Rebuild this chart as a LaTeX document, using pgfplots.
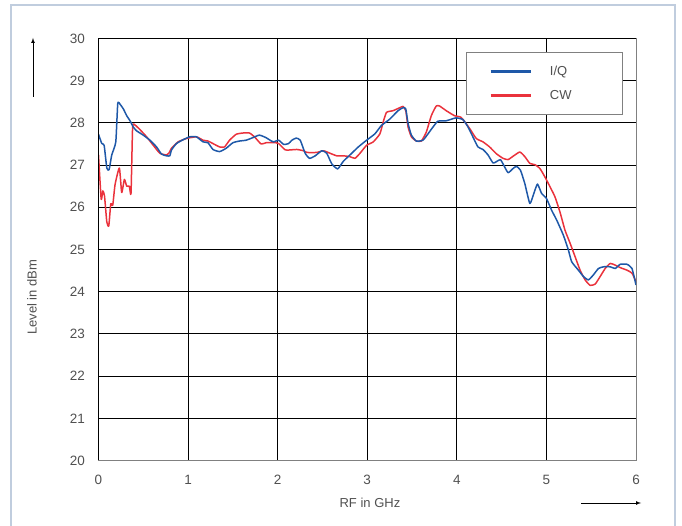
\documentclass[border=0pt]{standalone}
\usepackage{fontspec}
\setmainfont{Liberation Sans}
\usepackage{pgfplots}
\pgfplotsset{compat=1.18}
\definecolor{iqblue}{RGB}{30,88,168}
\definecolor{cwred}{RGB}{234,50,60}
\definecolor{txtgray}{RGB}{80,80,80}
\definecolor{framec}{RGB}{192,205,222}
\begin{document}
\fontsize{13pt}{15pt}\selectfont
\begin{tikzpicture}
\useasboundingbox (-98.5pt,-65.5pt) rectangle (583.5pt,460.5pt);
\draw[framec, line width=1.2pt] (-87.5pt,-70pt) -- (-87.5pt,455.5pt) -- (576.5pt,455.5pt) -- (576.5pt,-70pt);
\begin{axis}[
  at={(0pt,0pt)}, anchor=south west,
  width=537.5pt, height=422pt, scale only axis,
  xmin=0, xmax=6, ymin=20, ymax=30,
  xtick={0,1,2,3,4,5,6}, ytick={20,21,22,23,24,25,26,27,28,29,30},
  grid=major, major grid style={black, line width=0.9pt},
  major tick length=0pt,
  axis line style={draw=gray, line width=1pt},
  /pgf/number format/assume math mode=true,
  tick label style={font=\fontsize{13.5pt}{15pt}\selectfont, text=txtgray},
  xticklabel style={anchor=center, inner sep=0pt, yshift=-19.5pt},
  yticklabel style={anchor=east, inner sep=0pt, xshift=-13.5pt},
  xlabel={RF in GHz}, ylabel={Level in dBm},
  label style={font=\fontsize{13pt}{15pt}\selectfont, text=txtgray},
  xlabel style={at={(axis description cs:0.505,-0.1007)}, anchor=center},
  ylabel style={at={(axis description cs:-0.1237,0.387)}, anchor=center},
  reverse legend,
  legend image code/.code={\draw[#1, line width=3.2pt] (0pt,0pt) -- (40pt,0pt);},
  legend cell align=left,
  legend style={at={(axis description cs:0.683,0.967)}, anchor=north west,
    draw=gray, line width=0.8pt, fill=white, inner xsep=23pt, inner ysep=13pt,
    row sep=11.7pt, column sep=17.7pt, text=txtgray,
    font=\fontsize{13pt}{15pt}\selectfont,
    nodes={inner sep=0pt, minimum height=12pt}},
]
\addplot[cwred, line width=1.5pt, line join=round, smooth, tension=0.3] coordinates {
(0.000,27.24) (0.030,26.19) (0.048,26.39) (0.067,26.27) (0.093,25.65) (0.115,25.56)
(0.137,26.08) (0.159,26.05) (0.185,26.54) (0.233,26.93) (0.259,26.35) (0.289,26.66)
(0.315,26.50) (0.344,26.50) (0.363,26.33) (0.381,27.90) (0.407,27.95) (0.463,27.84)
(0.537,27.67) (0.611,27.47) (0.685,27.28) (0.759,27.24) (0.785,27.28) (0.815,27.40)
(0.889,27.55) (0.981,27.63) (1.093,27.67) (1.167,27.59) (1.222,27.57) (1.278,27.51)
(1.352,27.43) (1.407,27.43) (1.463,27.59) (1.537,27.73) (1.611,27.76) (1.685,27.76)
(1.741,27.67) (1.815,27.50) (1.870,27.53) (1.980,27.53) (2.011,27.51) (2.085,27.36)
(2.141,27.36) (2.215,27.37) (2.289,27.34) (2.326,27.30) (2.437,27.30) (2.511,27.34)
(2.585,27.28) (2.659,27.22) (2.733,27.22) (2.807,27.20) (2.863,27.16) (2.919,27.28)
(2.993,27.47) (3.067,27.55) (3.141,27.74) (3.178,28.02) (3.215,28.25) (3.289,28.29)
(3.363,28.36) (3.400,28.39) (3.430,28.29) (3.456,27.90) (3.493,27.67) (3.548,27.57)
(3.604,27.57) (3.659,27.78) (3.715,28.17) (3.770,28.40) (3.807,28.40) (3.881,28.29)
(3.974,28.17) (4.048,28.13) (4.142,27.87) (4.217,27.63) (4.292,27.55) (4.366,27.43)
(4.441,27.27) (4.516,27.16) (4.572,27.13) (4.628,27.21) (4.703,27.31) (4.759,27.20)
(4.815,27.04) (4.871,27.01) (4.927,26.92) (4.983,26.72) (5.039,26.49) (5.095,26.25)
(5.151,25.89) (5.207,25.46) (5.264,25.15) (5.320,24.83) (5.376,24.51) (5.432,24.28)
(5.488,24.15) (5.544,24.18) (5.600,24.36) (5.656,24.55) (5.712,24.67) (5.768,24.63)
(5.824,24.57) (5.899,24.51) (5.955,24.44) (6.000,24.24)
};
\addlegendentry{\makebox[49pt][l]{CW}}
\addplot[iqblue, line width=1.5pt, line join=round, smooth, tension=0.3] coordinates {
(0.000,27.73) (0.037,27.51) (0.063,27.47) (0.093,26.93) (0.118,26.89) (0.148,27.24)
(0.193,27.55) (0.215,28.46) (0.241,28.44) (0.278,28.33) (0.315,28.17) (0.352,28.05)
(0.389,27.90) (0.426,27.81) (0.500,27.71) (0.574,27.59) (0.648,27.43) (0.704,27.26)
(0.759,27.22) (0.796,27.22) (0.815,27.36) (0.870,27.51) (0.944,27.60) (1.019,27.67)
(1.093,27.67) (1.167,27.55) (1.222,27.53) (1.278,27.37) (1.352,27.32) (1.426,27.40)
(1.500,27.53) (1.574,27.57) (1.648,27.59) (1.722,27.65) (1.796,27.71) (1.870,27.65)
(1.930,27.57) (1.956,27.55) (2.011,27.59) (2.067,27.49) (2.122,27.51) (2.159,27.59)
(2.207,27.64) (2.252,27.59) (2.307,27.28) (2.356,27.16) (2.419,27.22) (2.493,27.34)
(2.548,27.28) (2.604,27.03) (2.670,26.91) (2.733,27.09) (2.807,27.24) (2.900,27.43)
(2.993,27.59) (3.085,27.74) (3.159,27.94) (3.252,28.09) (3.344,28.29) (3.400,28.36)
(3.430,28.33) (3.456,27.98) (3.493,27.71) (3.548,27.57) (3.622,27.59) (3.678,27.74)
(3.733,27.90) (3.789,28.04) (3.881,28.05) (3.956,28.10) (3.993,28.12) (4.067,28.08)
(4.123,27.91) (4.179,27.67) (4.236,27.43) (4.292,27.37) (4.348,27.24) (4.404,27.05)
(4.441,27.08) (4.486,27.13) (4.523,27.00) (4.572,26.82) (4.628,26.92) (4.665,26.97)
(4.710,26.88) (4.759,26.56) (4.815,26.09) (4.860,26.33) (4.900,26.55) (4.946,26.33)
(5.000,26.21) (5.058,25.93) (5.114,25.70) (5.189,25.34) (5.245,24.99) (5.282,24.71)
(5.357,24.51) (5.413,24.36) (5.469,24.28) (5.525,24.40) (5.581,24.55) (5.637,24.59)
(5.712,24.59) (5.768,24.55) (5.824,24.65) (5.899,24.65) (5.955,24.55) (6.000,24.16)
};
\addlegendentry{\makebox[49pt][l]{I/Q}}
\end{axis}
\draw[black, line width=0.9pt] (0pt,0pt) -- (0pt,422pt) -- (537.5pt,422pt);
\draw[black, line width=0.7pt, -latex] (-65.5pt,363.5pt) -- (-65.5pt,422.5pt);
\draw[black, line width=0.7pt, -latex] (482.5pt,-42.5pt) -- (542.5pt,-42.5pt);
\end{tikzpicture}
\end{document}
